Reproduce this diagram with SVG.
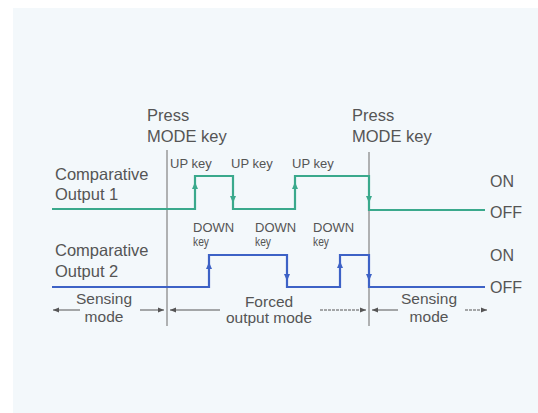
<svg xmlns="http://www.w3.org/2000/svg" width="538" height="413" viewBox="0 0 538 413">
<defs>
<style>
.t{font-family:"Liberation Sans",Arial,sans-serif;fill:#555555;}
.big{font-size:16.5px;}
.lv{font-size:16px;}
.md{font-size:15.5px;}
.sm{font-size:13px;}
.g{fill:none;stroke:#3aa98c;stroke-width:2.2;}
.b{fill:none;stroke:#3d62c6;stroke-width:2.2;}
.ga{fill:#3aa98c;}
.ba{fill:#3d62c6;}
.v{stroke:#8a8a8a;stroke-width:1.3;}
.ar{stroke:#555;stroke-width:1;}
</style>
<marker id="ah" viewBox="0 0 10 10" refX="10" refY="5" markerWidth="7" markerHeight="6" orient="auto-start-reverse" markerUnits="userSpaceOnUse">
<path d="M0,1 L10,5 L0,9 z" fill="#555"/>
</marker>
</defs>
<rect x="0" y="0" width="538" height="413" fill="#ffffff"/>
<rect x="13" y="8" width="525" height="405" fill="#f3f8fb"/>

<g id="connectors">
<line class="v" x1="167" y1="150" x2="167" y2="326"/>
<line class="v" x1="369" y1="152" x2="369" y2="326"/>
<path class="g" d="M52,209 H195 V176 H233 V209 H295 V176 H369 V210 H485"/>
<path class="b" d="M52,287 H209 V255 H287 V287 H340 V255 H369 V287 H485"/>
<polygon class="ga" points="195,182 192,189 198,189"/>
<polygon class="ga" points="233,203 230,196 236,196"/>
<polygon class="ga" points="295,182 292,189 298,189"/>
<polygon class="ga" points="369,203 366,196 372,196"/>
<polygon class="ba" points="209,262 206,269 212,269"/>
<polygon class="ba" points="287,281 284,274 290,274"/>
<polygon class="ba" points="340,261 337,268 343,268"/>
<polygon class="ba" points="369,281 366,274 372,274"/>
<line class="ar" x1="80" y1="310" x2="53" y2="310" marker-end="url(#ah)"/>
<line class="ar" x1="140" y1="310" x2="164" y2="310" marker-end="url(#ah)"/>
<line class="ar" x1="220" y1="310" x2="170" y2="310" marker-end="url(#ah)"/>
<line class="ar" x1="320" y1="310" x2="366" y2="310" marker-end="url(#ah)" stroke-dasharray="3,1"/>
<line class="ar" x1="398" y1="310" x2="372" y2="310" marker-end="url(#ah)"/>
<line class="ar" x1="465" y1="310" x2="487" y2="310" marker-end="url(#ah)" stroke-dasharray="3,1"/>
</g>

<g id="press1">
<text class="t big" x="147" y="121">Press</text>
<text class="t big" x="147" y="142">MODE key</text>
</g>
<g id="press2">
<text class="t big" x="352" y="121">Press</text>
<text class="t big" x="352" y="142">MODE key</text>
</g>
<g id="out1">
<text class="t big" x="55" y="180">Comparative</text>
<text class="t big" x="55" y="200">Output 1</text>
</g>
<g id="out2">
<text class="t big" x="55" y="256">Comparative</text>
<text class="t big" x="55" y="277">Output 2</text>
</g>
<g id="upkeys">
<text class="t sm" x="170" y="168">UP key</text>
<text class="t sm" x="231" y="168">UP key</text>
<text class="t sm" x="292" y="168">UP key</text>
</g>
<g id="downkeys">
<text class="t sm" x="193" y="232">DOWN</text>
<text class="t sm" x="193" y="246" textLength="16" lengthAdjust="spacingAndGlyphs">key</text>
<text class="t sm" x="255" y="232">DOWN</text>
<text class="t sm" x="255" y="246" textLength="16" lengthAdjust="spacingAndGlyphs">key</text>
<text class="t sm" x="313" y="232">DOWN</text>
<text class="t sm" x="313" y="246" textLength="16" lengthAdjust="spacingAndGlyphs">key</text>
</g>
<g id="levels">
<text class="t lv" x="490" y="187">ON</text>
<text class="t lv" x="490" y="218">OFF</text>
<text class="t lv" x="490" y="261">ON</text>
<text class="t lv" x="490" y="293">OFF</text>
</g>
<g id="modes">
<text class="t md" x="104" y="304" text-anchor="middle">Sensing</text>
<text class="t md" x="104" y="322" text-anchor="middle">mode</text>
<text class="t md" x="269" y="307" text-anchor="middle">Forced</text>
<text class="t md" x="269" y="323" text-anchor="middle">output mode</text>
<text class="t md" x="429" y="304" text-anchor="middle">Sensing</text>
<text class="t md" x="429" y="322" text-anchor="middle">mode</text>
</g>
</svg>
